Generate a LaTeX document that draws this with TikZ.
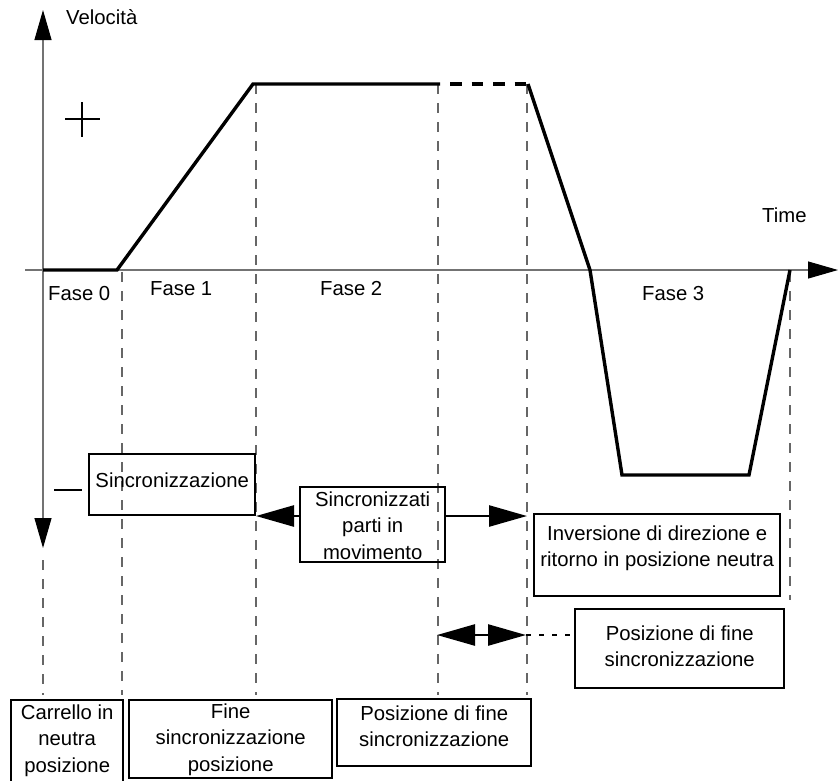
\documentclass[tikz,border=0pt]{standalone}
\usepackage{fontspec}
\setmainfont{Liberation Sans}
\usetikzlibrary{arrows.meta}

% fixed-size text panel: width, height, height of first line, text
\newcommand\panel[4]{\parbox[c][#2][t]{#1}{\centering\rule{0pt}{#3}#4}}

\begin{document}
\begin{tikzpicture}[x=1pt,y=-1pt,
  font=\fontsize{20.3pt}{26.5pt}\selectfont,
  axisline/.style={line width=1.1pt, draw=black!55},
  guide/.style={line width=1.1pt, draw=black!60, dash pattern=on 10pt off 9pt},
  curve/.style={line width=3.4pt, line join=miter},
  boxnode/.style={draw, line width=2.4pt, inner sep=0pt, anchor=north west},
  lbl/.style={inner sep=0pt, anchor=base west},
  bigtip/.tip={Triangle[length=38pt,width=21pt]},
  axtip/.tip={Triangle[length=30pt,width=17pt,color=black]},
  bigarrow/.style={line width=2.5pt, -bigtip},
  twoway/.style={line width=2.5pt, bigtip-bigtip},
  dotline/.style={line width=2.5pt, dash pattern=on 5pt off 8pt}]

\useasboundingbox (0,0) rectangle (840,780);

% axes
\draw[axisline, axtip-axtip] (43,548) -- (43,10);
\draw[axisline, -axtip] (25,270) -- (838,270);
\node[lbl] (vel) at (66,24) {Velocità};
\node[lbl] (time) at (762,222) {Time};

% plus / minus signs
\draw[line width=2.2pt] (65,119) -- (100,119) (82,102) -- (82,137);
\draw[line width=2.5pt] (54,490) -- (82,490);

% phase boundaries
\draw[guide] (43,560) -- (43,695);
\draw[guide] (122,272) -- (122,695);
\draw[guide] (256,84) -- (256,695);
\draw[guide] (438,84) -- (438,695);
\draw[guide] (527,84) -- (527,695);
\draw[guide] (790,272) -- (790,600);

% phase labels
\node[lbl] (f0) at (48,300) {Fase 0};
\node[lbl] (f1) at (150,295) {Fase 1};
\node[lbl] (f2) at (320,295) {Fase 2};
\node[lbl] (f3) at (642,300) {Fase 3};

% velocity profile
\draw[curve] (43,270) -- (117,270) -- (253,84) -- (440,84);
\draw[curve, dash pattern=on 11.5pt off 10pt, dash phase=11.5pt] (440,84) -- (528,84);
\draw[curve] (528,84) -- (590,270) -- (622,475) -- (749,475) -- (790,270);

% descriptive boxes
\node[boxnode] (sinc) at (88,453) {\panel{166pt}{61pt}{33pt}{Sincronizzazione}};
\node[boxnode] (mov) at (299,486) {\panel{145pt}{75pt}{19pt}{Sincronizzati\\parti in\\movimento}};
\node[boxnode] (inv) at (533,513) {\panel{246pt}{82pt}{26pt}{Inversione di direzione e\\ritorno in posizione neutra}};
\node[boxnode] (fin3) at (574,608) {\panel{209pt}{79pt}{31pt}{Posizione di fine\\sincronizzazione}};
\node[boxnode] (car) at (10,699) {\panel{112pt}{90pt}{19pt}{Carrello in\\neutra\\posizione}};
\node[boxnode] (fin1) at (128,699) {\panel{203pt}{78pt}{18pt}{Fine\\sincronizzazione\\posizione}};
\node[boxnode] (fin2) at (336,698) {\panel{194pt}{67pt}{21pt}{Posizione di fine\\sincronizzazione}};

% arrows
\coordinate (endF1) at (256,516);
\coordinate (endF2) at (527,516);
\draw[bigarrow] (mov.west |- endF1) -- (endF1);
\draw[bigarrow] (mov.east |- endF2) -- (endF2);
\coordinate (pL) at (437,635);
\coordinate (pR) at (526,635);
\draw[twoway] (pL) -- (pR);
\draw[dotline] (pR) -- (fin3.west |- pR);

\end{tikzpicture}
\end{document}
